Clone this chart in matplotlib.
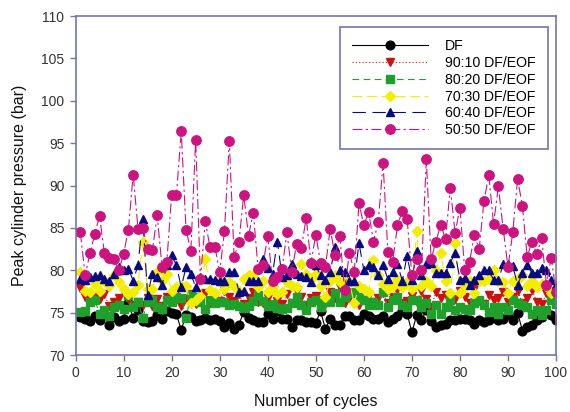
import matplotlib
matplotlib.use('Agg')
import matplotlib.pyplot as plt

plt.rcParams['font.family'] = ['Liberation Sans', 'DejaVu Sans']

# cycle numbers and peak pressures (bar)
cycles = list(range(1, 101))

df = [74.5, 74.3, 74.0, 74.6, 74.1, 74.8, 73.6, 74.5, 74.0, 74.3,
      76.1, 74.4, 75.3, 74.0, 73.9, 74.0, 74.7, 74.3, 75.2, 75.0,
      74.8, 73.0, 74.7, 74.5, 74.0, 74.2, 74.4, 74.1, 74.3, 74.0,
      73.3, 73.8, 73.1, 73.6, 75.1, 74.4, 74.1, 73.9, 73.9, 74.8,
      74.3, 75.2, 74.3, 74.3, 73.3, 74.1, 74.1, 73.9, 73.9, 73.8,
      75.2, 73.1, 74.3, 73.6, 73.6, 74.6, 74.6, 74.1, 74.1, 74.8,
      74.6, 74.3, 74.3, 74.6, 73.9, 74.3, 74.6, 75.2, 74.9, 72.7,
      74.7, 74.1, 75.3, 74.0, 73.3, 73.5, 73.7, 74.1, 74.1, 74.3,
      74.3, 74.1, 73.7, 74.1, 73.9, 74.1, 75.0, 74.1, 74.3, 74.9,
      74.1, 75.0, 72.9, 73.3, 73.6, 74.1, 74.5, 75.1, 74.7, 74.1]

eof10 = [77.9, 76.9, 76.6, 77.0, 76.6, 77.2, 75.8, 76.3, 76.8, 77.4,
         76.6, 75.9, 76.3, 75.9, 76.8, 75.8, 76.6, 75.8, 76.9, 77.1,
         77.4, 75.8, 76.6, 77.2, 76.0, 76.5, 77.3, 76.2, 77.0, 76.4,
         77.6, 76.9, 76.4, 77.2, 76.0, 76.7, 77.5, 76.3, 76.1, 76.8,
         77.9, 76.4, 76.0, 77.2, 76.2, 77.6, 76.9, 75.9, 76.7, 77.0,
         76.4, 76.0, 77.4, 76.8, 78.0, 76.2, 76.7, 77.2, 75.9, 76.5,
         77.1, 76.3, 76.8, 77.3, 76.1, 76.9, 77.8, 76.2, 76.4, 77.0,
         76.3, 77.6, 76.6, 75.7, 77.4, 76.8, 77.1, 76.2, 76.6, 77.6,
         76.9, 76.2, 77.8, 76.4, 76.0, 77.1, 76.5, 76.8, 77.5, 76.3,
         76.9, 77.6, 76.1, 76.7, 77.7, 76.3, 76.0, 77.3, 76.8, 77.6]

eof20 = [75.1, 75.2, 76.3, 76.5, 74.9, 75.3, 74.6, 75.7, 75.9, 75.4,
         77.1, 75.7, 76.3, 74.4, 76.3, 76.5, 75.7, 75.5, 76.5, 76.3,
         76.9, 76.7, 74.4, 77.1, 76.9, 76.3, 75.5, 76.5, 76.1, 76.3,
         76.3, 75.9, 76.0, 75.8, 75.6, 75.8, 76.4, 77.1, 76.4, 75.8,
         76.0, 75.6, 75.4, 75.6, 76.2, 76.9, 75.9, 75.3, 76.3, 76.5,
         75.7, 76.5, 76.3, 77.3, 76.3, 76.9, 77.3, 77.5, 76.9, 76.5,
         75.9, 76.3, 75.9, 77.5, 75.7, 76.5, 76.9, 75.9, 75.7, 76.5,
         76.5, 75.7, 76.1, 74.9, 75.9, 74.9, 75.7, 76.5, 75.3, 75.7,
         75.5, 75.3, 76.1, 76.5, 75.9, 75.1, 75.7, 74.9, 75.7, 75.3,
         76.5, 76.1, 75.9, 75.7, 74.9, 75.3, 74.7, 75.3, 76.5, 76.0]

eof30 = [79.8, 77.6, 77.4, 78.4, 77.6, 78.8, 78.2, 79.4, 78.6, 77.8,
         77.2, 77.4, 78.3, 83.4, 77.8, 77.8, 79.8, 78.8, 79.6, 77.6,
         78.0, 78.2, 78.2, 76.1, 76.5, 77.0, 81.4, 77.7, 77.3, 78.8,
         77.8, 78.6, 78.2, 77.6, 79.0, 79.4, 79.4, 78.0, 78.8, 77.4,
         78.2, 77.2, 77.4, 78.6, 78.2, 78.0, 80.8, 79.6, 79.0, 79.6,
         78.2, 76.9, 78.8, 79.4, 78.6, 78.6, 78.6, 76.1, 78.2, 77.8,
         77.4, 81.2, 79.4, 78.4, 77.8, 78.2, 79.0, 78.0, 78.6, 77.8,
         84.6, 78.2, 78.8, 78.2, 80.0, 82.0, 78.8, 77.3, 83.2, 77.3,
         78.2, 78.8, 77.3, 78.8, 78.8, 79.0, 80.0, 78.8, 78.6, 77.3,
         78.8, 79.0, 79.4, 78.2, 78.8, 78.0, 78.4, 78.2, 77.3, 78.4]

eof40 = [79.0, 78.9, 79.2, 79.3, 79.4, 79.0, 78.7, 79.6, 80.4, 80.0,
         80.2, 78.8, 80.6, 86.1, 77.1, 79.6, 79.2, 78.3, 80.6, 81.8,
         80.6, 78.0, 80.4, 79.6, 78.0, 79.2, 79.0, 79.0, 78.9, 78.8,
         78.7, 79.8, 79.8, 77.5, 77.6, 78.8, 78.7, 78.8, 81.3, 80.3,
         79.6, 83.4, 79.2, 79.5, 80.8, 79.6, 79.3, 79.2, 78.6, 80.6,
         79.4, 78.9, 79.8, 82.8, 80.0, 79.8, 78.8, 78.8, 83.2, 80.0,
         80.6, 80.4, 79.4, 80.6, 79.0, 79.8, 80.7, 78.8, 81.7, 78.9,
         82.3, 79.5, 80.7, 80.9, 79.7, 79.7, 79.7, 80.9, 82.1, 78.9,
         79.1, 78.3, 78.9, 79.5, 80.0, 80.0, 78.9, 78.9, 80.7, 80.7,
         80.5, 78.3, 79.7, 80.6, 79.7, 79.7, 80.3, 80.1, 78.9, 78.3]

eof50 = [84.5, 79.4, 82.0, 84.3, 86.4, 82.1, 81.5, 81.3, 80.0, 81.9,
         84.8, 91.3, 84.9, 85.0, 82.5, 82.4, 86.5, 80.4, 81.0, 88.9,
         88.9, 96.4, 84.8, 82.3, 95.4, 79.0, 85.8, 82.7, 82.8, 79.8,
         84.6, 95.3, 81.6, 83.3, 88.9, 84.1, 86.8, 80.2, 80.6, 84.1,
         78.8, 79.2, 80.2, 84.5, 79.8, 83.1, 82.6, 86.2, 80.9, 84.2,
         80.9, 80.4, 84.9, 81.8, 84.1, 77.7, 82.1, 79.8, 87.9, 85.3,
         86.9, 83.4, 85.7, 92.7, 82.2, 81.0, 85.3, 87.0, 86.1, 79.4,
         81.4, 80.0, 93.1, 81.3, 83.4, 85.4, 83.7, 89.7, 84.4, 87.4,
         80.0, 81.0, 84.2, 82.5, 88.2, 91.2, 85.5, 89.9, 84.9, 80.4,
         84.5, 90.8, 87.6, 81.6, 83.4, 81.9, 83.8, 78.3, 81.5, 77.4]

labels = ['DF', '90:10 DF/EOF', '80:20 DF/EOF', '70:30 DF/EOF',
          '60:40 DF/EOF', '50:50 DF/EOF']

axis_col = '#7474B0'

fig = plt.figure(figsize=(5.7, 4.12), dpi=100)
ax = fig.add_axes([0.1325, 0.138, 0.843, 0.823])

ms = 6.3
lw = 0.8
ax.plot(cycles, df, color='black', lw=lw, ls='-', marker='o', ms=ms,
        mec='black', label=labels[0])
ax.plot(cycles, eof10, color='#D01010', lw=lw, ls=(0, (1, 2)), marker='v', ms=ms,
        mec='#D01010', label=labels[1])
ax.plot(cycles, eof20, color='#1FA02A', lw=lw, ls=(0, (6, 4)), marker='s', ms=ms - 0.5,
        mec='#1FA02A', label=labels[2])
ax.plot(cycles, eof30, color='#F2EE00', lw=lw, ls=(0, (9, 4)), marker='D', ms=ms - 1,
        mec='#F2EE00', label=labels[3])
ax.plot(cycles, eof40, color='#0A0A80', lw=lw, ls=(0, (12, 6)), marker='^', ms=ms,
        mec='#0A0A80', label=labels[4])
ax.plot(cycles, eof50, color='#CC1480', lw=lw, ls=(0, (9, 3, 2, 3)), marker='o', ms=ms + 0.5,
        mec='#CC1480', label=labels[5])

ax.set_xlim(0, 100)
ax.set_ylim(70, 110)
ax.set_xticks(range(0, 101, 10))
ax.set_yticks(range(70, 111, 5))
ax.tick_params(axis='both', direction='out', length=4, width=1, color=axis_col,
               labelsize=10, labelcolor='#333333', pad=4)
for s in ax.spines.values():
    s.set_color(axis_col)
    s.set_linewidth(1.2)

ax.set_xlabel('Number of cycles', fontsize=11.5, color='#111111', labelpad=10)
ax.set_ylabel('Peak cylinder pressure (bar)', fontsize=11.5, color='#111111', labelpad=10)

leg = ax.legend(loc='upper right', bbox_to_anchor=(548 / 570, 1 - 27 / 412),
                bbox_transform=fig.transFigure, borderaxespad=0, fancybox=False,
                framealpha=1, edgecolor=axis_col, fontsize=10.2, handlelength=5.4,
                labelspacing=0.2, handletextpad=1.2, borderpad=0.85)
leg.get_frame().set_linewidth(1.2)

fig.savefig('out.png', dpi=100)
